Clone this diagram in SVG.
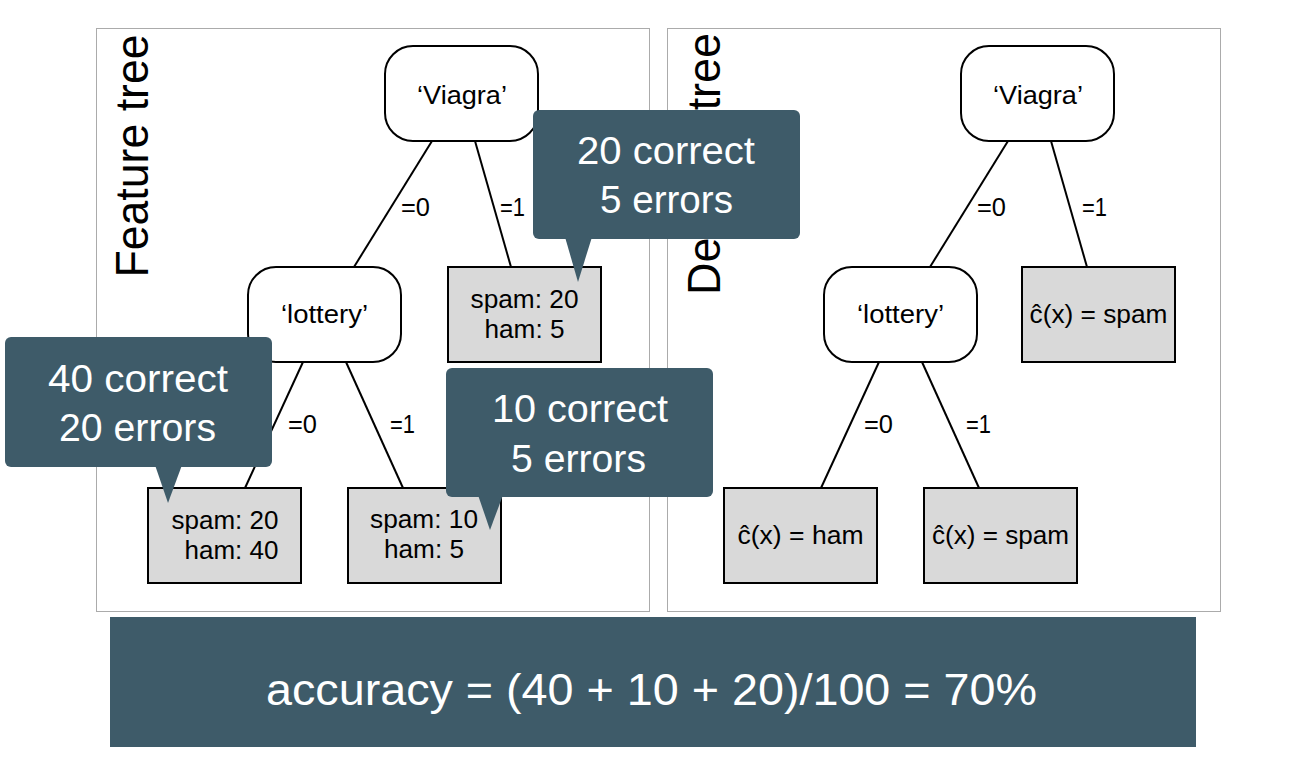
<svg xmlns="http://www.w3.org/2000/svg" width="1298" height="768" viewBox="0 0 1298 768">
<style>
.panel{fill:#fff;stroke:#ababab;stroke-width:1}
.dec{fill:#fff;stroke:#000;stroke-width:2}
.leaf{fill:#d9d9d9;stroke:#000;stroke-width:2}
.edge{stroke:#000;stroke-width:2;fill:none}
.t{font-family:"Liberation Sans",Arial,sans-serif;font-size:25px;fill:#000;text-anchor:middle}
.lbl{font-family:"Liberation Sans",Arial,sans-serif;font-size:25px;fill:#000;text-anchor:start}
.big{font-family:"Liberation Sans",Arial,sans-serif;font-size:46px;fill:#000;text-anchor:middle}
.call{fill:#3e5b69}
.ct{font-family:"Liberation Sans",Arial,sans-serif;font-size:38px;fill:#fff;text-anchor:middle}
.bt{font-family:"Liberation Sans",Arial,sans-serif;font-size:45px;fill:#fff;text-anchor:middle}
</style>
<rect width="1298" height="768" fill="#fff"/>
<g id="panel-feature">
<rect class="panel" x="96.5" y="28.5" width="553" height="583"/>
<text class="big" transform="translate(148,156) rotate(-90)" textLength="243" lengthAdjust="spacingAndGlyphs">Feature tree</text>
</g>
<g id="panel-decision">
<rect class="panel" x="667.5" y="28.5" width="553" height="583"/>
<text class="big" transform="translate(720,164) rotate(-90)" textLength="262" lengthAdjust="spacingAndGlyphs">Decision tree</text>
</g>
<g id="connectors">
<line class="edge" x1="432" y1="141" x2="354" y2="267"/>
<line class="edge" x1="475" y1="141" x2="511" y2="267"/>
<line class="edge" x1="303" y1="362" x2="245" y2="488"/>
<line class="edge" x1="346" y1="362" x2="403" y2="488"/>
<text class="lbl" x="401" y="216" textLength="29" lengthAdjust="spacingAndGlyphs">=0</text>
<text class="lbl" x="500" y="216" textLength="25" lengthAdjust="spacingAndGlyphs">=1</text>
<text class="lbl" x="288" y="433" textLength="29" lengthAdjust="spacingAndGlyphs">=0</text>
<text class="lbl" x="390" y="433" textLength="25" lengthAdjust="spacingAndGlyphs">=1</text>
<line class="edge" x1="1008" y1="141" x2="930" y2="267"/>
<line class="edge" x1="1051" y1="141" x2="1087" y2="267"/>
<line class="edge" x1="879" y1="362" x2="821" y2="488"/>
<line class="edge" x1="922" y1="362" x2="979" y2="488"/>
<text class="lbl" x="977" y="216" textLength="29" lengthAdjust="spacingAndGlyphs">=0</text>
<text class="lbl" x="1082" y="216" textLength="25" lengthAdjust="spacingAndGlyphs">=1</text>
<text class="lbl" x="864" y="433" textLength="29" lengthAdjust="spacingAndGlyphs">=0</text>
<text class="lbl" x="966" y="433" textLength="25" lengthAdjust="spacingAndGlyphs">=1</text>
</g>
<g id="ft-viagra">
<rect class="dec" x="385" y="46" width="153" height="95" rx="28"/>
<text class="t" x="462" y="104" textLength="90" lengthAdjust="spacingAndGlyphs">‘Viagra’</text>
</g>
<g id="ft-lottery">
<rect class="dec" x="248" y="267" width="153" height="95" rx="28"/>
<text class="t" x="324.5" y="323" textLength="87" lengthAdjust="spacingAndGlyphs">‘lottery’</text>
</g>
<g id="ft-leaf-viagra1">
<rect class="leaf" x="448" y="267" width="153" height="95"/>
<text class="t" x="524.5" y="308" textLength="108" lengthAdjust="spacingAndGlyphs">spam: 20</text>
<text class="t" x="524.5" y="338" textLength="80" lengthAdjust="spacingAndGlyphs">ham: 5</text>
</g>
<g id="ft-leaf-lottery0">
<rect class="leaf" x="148" y="488" width="153" height="95"/>
<text class="t" x="225" y="529" textLength="107" lengthAdjust="spacingAndGlyphs">spam: 20</text>
<text class="t" x="231.5" y="559" textLength="94" lengthAdjust="spacingAndGlyphs">ham: 40</text>
</g>
<g id="ft-leaf-lottery1">
<rect class="leaf" x="348" y="488" width="153" height="95"/>
<text class="t" x="424" y="528" textLength="108" lengthAdjust="spacingAndGlyphs">spam: 10</text>
<text class="t" x="424" y="558" textLength="80" lengthAdjust="spacingAndGlyphs">ham: 5</text>
</g>
<g id="dt-viagra">
<rect class="dec" x="961" y="46" width="153" height="95" rx="28"/>
<text class="t" x="1038" y="104" textLength="90" lengthAdjust="spacingAndGlyphs">‘Viagra’</text>
</g>
<g id="dt-lottery">
<rect class="dec" x="824" y="267" width="153" height="95" rx="28"/>
<text class="t" x="900.5" y="323" textLength="87" lengthAdjust="spacingAndGlyphs">‘lottery’</text>
</g>
<g id="dt-leaf-spam-top">
<rect class="leaf" x="1022" y="267" width="153" height="95"/>
<text class="t" x="1098.5" y="323" textLength="138" lengthAdjust="spacingAndGlyphs">ĉ(x) = spam</text>
</g>
<g id="dt-leaf-ham">
<rect class="leaf" x="724" y="488" width="153" height="95"/>
<text class="t" x="800.5" y="544" textLength="126" lengthAdjust="spacingAndGlyphs">ĉ(x) = ham</text>
</g>
<g id="dt-leaf-spam">
<rect class="leaf" x="924" y="488" width="153" height="95"/>
<text class="t" x="1000.5" y="544" textLength="137" lengthAdjust="spacingAndGlyphs">ĉ(x) = spam</text>
</g>
<g id="callout-20">
<rect class="call" x="533" y="110" width="267" height="129" rx="6"/>
<polygon class="call" points="565,237 592,237 578,282"/>
<text class="ct" x="666" y="164" textLength="178" lengthAdjust="spacingAndGlyphs">20 correct</text>
<text class="ct" x="666.5" y="213" textLength="133" lengthAdjust="spacingAndGlyphs">5 errors</text>
</g>
<g id="callout-40">
<rect class="call" x="5" y="337" width="267" height="130" rx="6"/>
<polygon class="call" points="155,465 182,465 168,503"/>
<text class="ct" x="138" y="392" textLength="180" lengthAdjust="spacingAndGlyphs">40 correct</text>
<text class="ct" x="137.5" y="441" textLength="157" lengthAdjust="spacingAndGlyphs">20 errors</text>
</g>
<g id="callout-10">
<rect class="call" x="446" y="368" width="267" height="129" rx="6"/>
<polygon class="call" points="478,495 503,495 490,530"/>
<text class="ct" x="580" y="422" textLength="176" lengthAdjust="spacingAndGlyphs">10 correct</text>
<text class="ct" x="578.5" y="472" textLength="135" lengthAdjust="spacingAndGlyphs">5 errors</text>
</g>
<g id="accuracy-banner">
<rect class="call" x="110" y="617" width="1086" height="130"/>
<text class="bt" x="651.5" y="705" textLength="771" lengthAdjust="spacingAndGlyphs">accuracy = (40 + 10 + 20)/100 = 70%</text>
</g>
</svg>
